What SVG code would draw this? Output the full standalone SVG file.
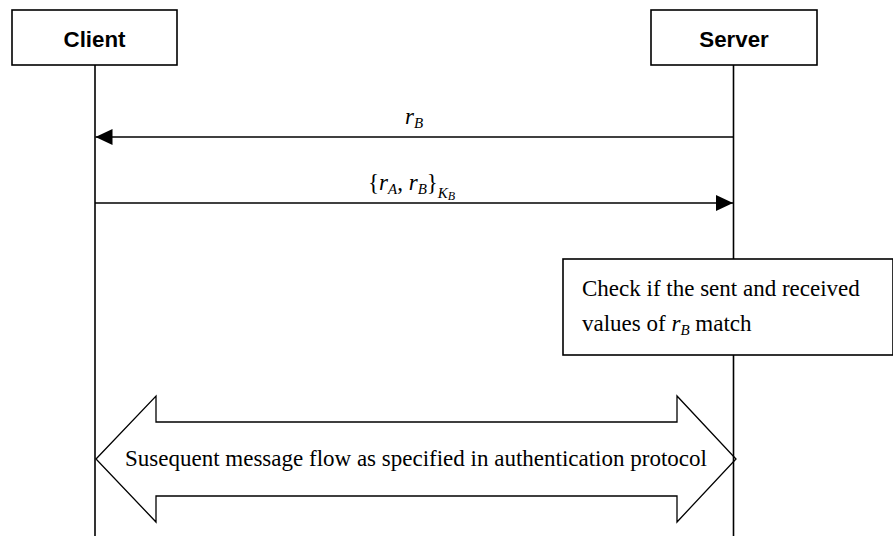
<svg xmlns="http://www.w3.org/2000/svg" width="893" height="537" viewBox="0 0 893 537">
<style>
.box{fill:#fff;stroke:#000;stroke-width:1.6}
.hdr{font-family:"Liberation Sans",Arial,sans-serif;font-weight:bold;font-size:22.3px;text-anchor:middle;fill:#000}
.ser{font-family:"Liberation Serif","Times New Roman",serif;font-size:23px;fill:#000}
.life{stroke:#000;stroke-width:1.6;fill:none}
.msg{stroke:#000;stroke-width:1.5;fill:none}
.it{font-style:italic}
</style>
<defs>
<marker id="ah" viewBox="0 0 17 16" refX="17" refY="8" markerWidth="17" markerHeight="16" markerUnits="userSpaceOnUse" orient="auto">
<path d="M0,0 L17,8 L0,16 Z" fill="#000"/>
</marker>
</defs>
<g id="flow">
<polygon points="96,459 156,396 156,422 677,422 677,396 736,459 677,522 677,496 156,496 156,522" fill="#fff" stroke="#000" stroke-width="1.3"/>
<text class="ser" x="125" y="466">Susequent message flow as specified in authentication protocol</text>
</g>
<g id="lifelines">
<line class="life" x1="95" y1="65" x2="95" y2="536"/>
<line class="life" x1="733.5" y1="65" x2="733.5" y2="536"/>
</g>
<g id="client">
<rect class="box" x="12" y="10" width="165" height="55"/>
<text class="hdr" x="94.5" y="46.5">Client</text>
</g>
<g id="server">
<rect class="box" x="651" y="10" width="166" height="55"/>
<text class="hdr" x="734" y="46.5">Server</text>
</g>
<g id="check">
<rect class="box" x="563" y="259" width="330" height="96"/>
<text class="ser" x="582" y="296">Check if the sent and received</text>
<text class="ser" x="582" y="331">values of <tspan class="it">r</tspan><tspan class="it" font-size="15px" dy="4">B</tspan><tspan dy="-4"> match</tspan></text>
</g>
<g id="connectors">
<line class="msg" x1="733.5" y1="137" x2="95.5" y2="137" marker-end="url(#ah)"/>
<line class="msg" x1="95" y1="203" x2="733" y2="203" marker-end="url(#ah)"/>
</g>
<g id="labels">
<text class="ser" x="405" y="124"><tspan class="it">r</tspan><tspan class="it" font-size="15px" dy="4">B</tspan></text>
<text class="ser" x="368" y="190">{<tspan class="it">r</tspan><tspan class="it" font-size="15px" dy="4">A</tspan><tspan dy="-4">, </tspan><tspan class="it">r</tspan><tspan class="it" font-size="15px" dy="4">B</tspan><tspan dy="-4">}</tspan><tspan class="it" font-size="15px" dy="8">K</tspan><tspan class="it" font-size="12px" dy="2">B</tspan></text>
</g>
</svg>
